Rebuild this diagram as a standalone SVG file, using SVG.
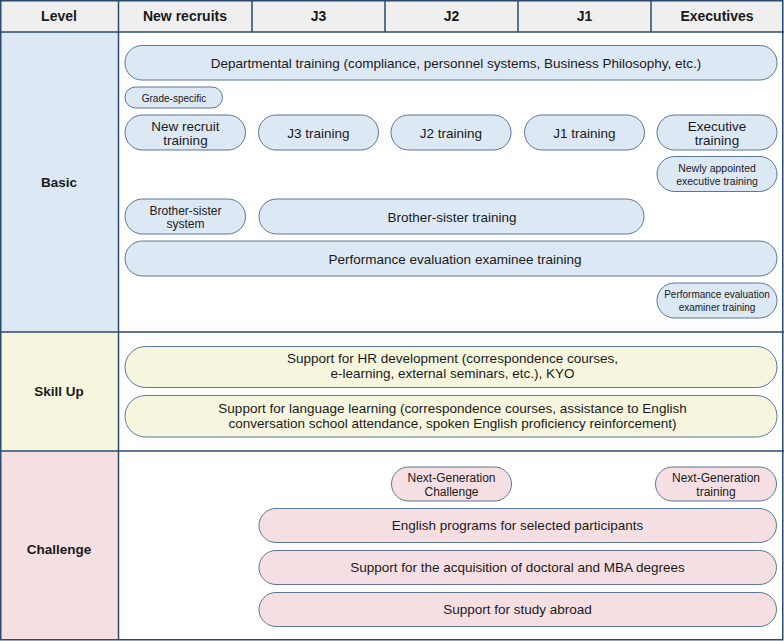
<svg xmlns="http://www.w3.org/2000/svg" width="784" height="641" viewBox="0 0 784 641">
<style>
text{font-family:"Liberation Sans",Arial,sans-serif;fill:#1a1a1a;text-anchor:middle}
.hd{font-size:14px;font-weight:bold}
.lv{font-size:13.5px;font-weight:bold}
.t{font-size:13.5px}
.m{font-size:12px}
.n{font-size:12px}
.s{font-size:10.5px}
.xs{font-size:10px}
.grid{stroke:#2c4a6b;stroke-width:1.5;fill:none}
.b{fill:#dde8f5;stroke:#5a7795;stroke-width:1}
.y{fill:#f6f6df;stroke:#5a7795;stroke-width:1}
.p{fill:#f6dfe3;stroke:#5a7795;stroke-width:1}
</style>
<rect x="0" y="0" width="784" height="641" fill="#ffffff"/>
<g id="table">
<rect x="0" y="0" width="784" height="32" fill="#efefef"/>
<rect x="0" y="32" width="118.5" height="300" fill="#dde8f5"/>
<rect x="0" y="332" width="118.5" height="119" fill="#f6f6df"/>
<rect x="0" y="451" width="118.5" height="189" fill="#f6dfe3"/>
<path class="grid" d="M0.75 0.75H782.75V639.75H0.75Z M118.5 0V640 M252 0V32 M385 0V32 M518 0V32 M651 0V32 M0 32H784 M0 332H784 M0 451H784"/>
<text class="hd" x="59" y="21">Level</text>
<text class="hd" x="185" y="21">New recruits</text>
<text class="hd" x="318.5" y="21">J3</text>
<text class="hd" x="451.5" y="21">J2</text>
<text class="hd" x="584.5" y="21">J1</text>
<text class="hd" x="717" y="21">Executives</text>
<text class="lv" x="59" y="187">Basic</text>
<text class="lv" x="59" y="396">Skill Up</text>
<text class="lv" x="59" y="554">Challenge</text>
</g>
<g id="connectors"></g>
<g id="n-departmental"><rect class="b" x="125" y="45.5" width="652" height="34.5" rx="17"/><text class="t" x="456" y="67.5">Departmental training (compliance, personnel systems, Business Philosophy, etc.)</text></g>
<g id="n-grade"><rect class="b" x="125" y="87" width="97.5" height="21" rx="10.5"/><text class="xs" x="174" y="101.5">Grade-specific</text></g>
<g id="n-newrecruit"><rect class="b" x="125" y="115" width="120.5" height="35" rx="17.5"/><text class="t" x="185.5" y="130.5">New recruit</text><text class="t" x="185.5" y="144.5">training</text></g>
<g id="n-j3"><rect class="b" x="258.5" y="115" width="120" height="35" rx="17.5"/><text class="t" x="318.5" y="137.5">J3 training</text></g>
<g id="n-j2"><rect class="b" x="391" y="115" width="120" height="35" rx="17.5"/><text class="t" x="451" y="137.5">J2 training</text></g>
<g id="n-j1"><rect class="b" x="524.5" y="115" width="120" height="35" rx="17.5"/><text class="t" x="584.5" y="137.5">J1 training</text></g>
<g id="n-exec"><rect class="b" x="657" y="115" width="120" height="35" rx="17.5"/><text class="t" x="717" y="130.5">Executive</text><text class="t" x="717" y="144.5">training</text></g>
<g id="n-newexec"><rect class="b" x="657" y="156.5" width="120" height="35" rx="17.5"/><text class="s" x="717" y="172">Newly appointed</text><text class="s" x="717" y="185">executive training</text></g>
<g id="n-bssystem"><rect class="b" x="125" y="199" width="120.5" height="35" rx="17.5"/><text class="m" x="185.5" y="214.5">Brother-sister</text><text class="m" x="185.5" y="228">system</text></g>
<g id="n-bstraining"><rect class="b" x="259" y="199" width="385" height="35" rx="17.5"/><text class="t" x="452" y="221.5">Brother-sister training</text></g>
<g id="n-examinee"><rect class="b" x="125" y="241" width="652" height="35" rx="17.5"/><text class="t" x="455" y="263.5">Performance evaluation examinee training</text></g>
<g id="n-examiner"><rect class="b" x="657" y="283" width="120" height="35" rx="17.5"/><text class="xs" x="717" y="298">Performance evaluation</text><text class="xs" x="717" y="311">examiner training</text></g>
<g id="n-hr"><rect class="y" x="125" y="346.5" width="652" height="41" rx="20.5"/><text class="t" x="452.5" y="363">Support for HR development (correspondence courses,</text><text class="t" x="452.5" y="378">e-learning, external seminars, etc.), KYO</text></g>
<g id="n-lang"><rect class="y" x="125" y="395.5" width="652" height="41.5" rx="20.5"/><text class="t" x="452.5" y="413">Support for language learning (correspondence courses, assistance to English</text><text class="t" x="452.5" y="428">conversation school attendance, spoken English proficiency reinforcement)</text></g>
<g id="n-nextgenchallenge"><rect class="p" x="391.5" y="467" width="120" height="34" rx="17"/><text class="n" x="451.5" y="481.5">Next-Generation</text><text class="n" x="451.5" y="496">Challenge</text></g>
<g id="n-nextgentraining"><rect class="p" x="655.5" y="467" width="121" height="34" rx="17"/><text class="n" x="716" y="481.5">Next-Generation</text><text class="n" x="716" y="496">training</text></g>
<g id="n-english"><rect class="p" x="259" y="508.5" width="517.5" height="34" rx="17"/><text class="t" x="517.5" y="530">English programs for selected participants</text></g>
<g id="n-mba"><rect class="p" x="259" y="550.5" width="517.5" height="34" rx="17"/><text class="t" x="517.5" y="572">Support for the acquisition of doctoral and MBA degrees</text></g>
<g id="n-abroad"><rect class="p" x="259" y="592.5" width="517.5" height="34" rx="17"/><text class="t" x="517.5" y="614">Support for study abroad</text></g>
</svg>
